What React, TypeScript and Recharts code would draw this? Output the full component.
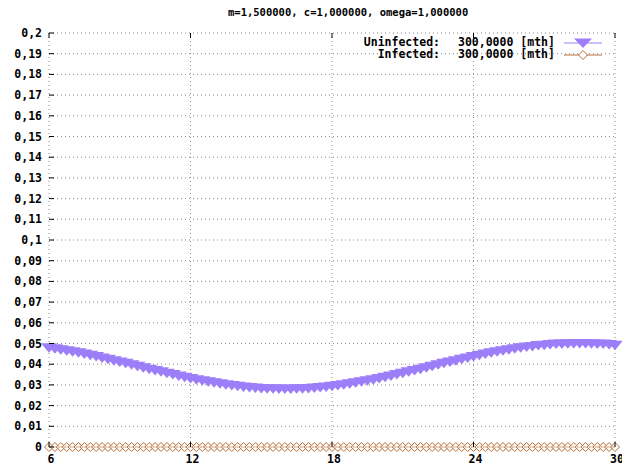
import { LineChart, Line, XAxis, YAxis, CartesianGrid } from 'recharts';

const title = 'm=1,500000, c=1,000000, omega=1,000000';

const months = [
  6, 6.25, 6.5, 6.75, 7, 7.25, 7.5, 7.75, 8, 8.25, 8.5, 8.75,
  9, 9.25, 9.5, 9.75, 10, 10.25, 10.5, 10.75, 11, 11.25, 11.5, 11.75,
  12, 12.25, 12.5, 12.75, 13, 13.25, 13.5, 13.75, 14, 14.25, 14.5, 14.75,
  15, 15.25, 15.5, 15.75, 16, 16.25, 16.5, 16.75, 17, 17.25, 17.5, 17.75,
  18, 18.25, 18.5, 18.75, 19, 19.25, 19.5, 19.75, 20, 20.25, 20.5, 20.75,
  21, 21.25, 21.5, 21.75, 22, 22.25, 22.5, 22.75, 23, 23.25, 23.5, 23.75,
  24, 24.25, 24.5, 24.75, 25, 25.25, 25.5, 25.75, 26, 26.25, 26.5, 26.75,
  27, 27.25, 27.5, 27.75, 28, 28.25, 28.5, 28.75, 29, 29.25, 29.5, 29.75,
  30,
];

const uninfected = [
  0.0479, 0.0475, 0.047, 0.0465, 0.046, 0.0455, 0.0449, 0.0443, 0.0437, 0.043, 0.0424, 0.0417,
  0.0411, 0.0404, 0.0397, 0.039, 0.0383, 0.0376, 0.0369, 0.0363, 0.0356, 0.035, 0.0343, 0.0337,
  0.0331, 0.0325, 0.032, 0.0315, 0.031, 0.0305, 0.0301, 0.0297, 0.0294, 0.029, 0.0288, 0.0285,
  0.0283, 0.0282, 0.0281, 0.028, 0.028, 0.028, 0.0281, 0.0282, 0.0283, 0.0285, 0.0288, 0.029,
  0.0294, 0.0297, 0.0301, 0.0305, 0.031, 0.0315, 0.032, 0.0325, 0.0331, 0.0337, 0.0343, 0.035,
  0.0356, 0.0363, 0.0369, 0.0376, 0.0383, 0.039, 0.0397, 0.0404, 0.0411, 0.0417, 0.0424, 0.043,
  0.0437, 0.0443, 0.0449, 0.0455, 0.046, 0.0465, 0.047, 0.0475, 0.0479, 0.0483, 0.0486, 0.049,
  0.0492, 0.0495, 0.0497, 0.0498, 0.0499, 0.05, 0.05, 0.05, 0.0499, 0.0498, 0.0497, 0.0495,
  0.0492,
];

const infected = [
  0, 0, 0, 0, 0, 0, 0, 0, 0, 0, 0, 0,
  0, 0, 0, 0, 0, 0, 0, 0, 0, 0, 0, 0,
  0, 0, 0, 0, 0, 0, 0, 0, 0, 0, 0, 0,
  0, 0, 0, 0, 0, 0, 0, 0, 0, 0, 0, 0,
  0, 0, 0, 0, 0, 0, 0, 0, 0, 0, 0, 0,
  0, 0, 0, 0, 0, 0, 0, 0, 0, 0, 0, 0,
  0, 0, 0, 0, 0, 0, 0, 0, 0, 0, 0, 0,
  0, 0, 0, 0, 0, 0, 0, 0, 0, 0, 0, 0,
  0,
];

const xTicks = [6, 12, 18, 24, 30];
const yTicks = [
  0, 0.01, 0.02, 0.03, 0.04, 0.05, 0.06, 0.07, 0.08, 0.09, 0.1,
  0.11, 0.12, 0.13, 0.14, 0.15, 0.16, 0.17, 0.18, 0.19, 0.2,
];

const seriesLabels = ['Uninfected:', 'Infected:'];
const seriesValues = ['300,0000 [mth]', '300,0000 [mth]'];

const purple = '#9c7ef9';
const brown = '#b9713a';
const font = '"DejaVu Sans Mono", monospace';

const data = months.map((m, i) => ({ month: m, uninfected: uninfected[i], infected: infected[i] }));

const fmt = (v: number) => String(v).replace('.', ',');

const LeftTick = (props: any) => {
  const { x, y, payload } = props;
  return (
    <g>
      <line x1={x} y1={y} x2={x + 5} y2={y} stroke="#000" />
      <text x={x - 7} y={y} dy={4} textAnchor="end" fontFamily={font} fontWeight="bold" fontSize={11.5} fill="#000">
        {fmt(payload.value)}
      </text>
    </g>
  );
};

const RightTick = (props: any) => {
  const { x, y } = props;
  return <line x1={x} y1={y} x2={x - 5} y2={y} stroke="#000" />;
};

const BottomTick = (props: any) => {
  const { x, y, payload } = props;
  return (
    <g>
      <line x1={x} y1={y} x2={x} y2={y - 5} stroke="#000" />
      <text x={x + 2} y={y + 16} textAnchor="middle" fontFamily={font} fontWeight="bold" fontSize={11.5} fill="#000">
        {payload.value}
      </text>
    </g>
  );
};

const TopTick = (props: any) => {
  const { x, y } = props;
  return <line x1={x} y1={y} x2={x} y2={y + 5} stroke="#000" />;
};

const TriangleDot = (props: any) => {
  const { cx, cy, index } = props;
  if (cx == null || cy == null) return <g key={`t-${index}`} />;
  return <path key={`t-${index}`} d={`M${cx - 8},${cy - 4.5} L${cx + 8},${cy - 4.5} L${cx},${cy + 5} Z`} fill={purple} />;
};

const DiamondDot = (props: any) => {
  const { cx, cy, index } = props;
  if (cx == null || cy == null) return <g key={`d-${index}`} />;
  return (
    <path
      key={`d-${index}`}
      d={`M${cx},${cy - 4.5} L${cx + 4.5},${cy} L${cx},${cy + 4.5} L${cx - 4.5},${cy} Z`}
      fill="#fff"
      fillOpacity={0.5}
      stroke={brown}
      strokeWidth={1}
    />
  );
};

const LegendBox = () => (
  <div style={{ position: 'absolute', top: 37, left: 0, width: 622, fontFamily: font, fontWeight: 'bold', fontSize: 11.5 }}>
    {seriesLabels.map((label, i) => (
      <div key={label} style={{ position: 'absolute', top: i * 12, left: 0, width: 622, height: 11, lineHeight: '11px' }}>
        <span style={{ position: 'absolute', right: 182, whiteSpace: 'nowrap' }}>{label}</span>
        <span style={{ position: 'absolute', left: 458, whiteSpace: 'nowrap' }}>{seriesValues[i]}</span>
        <svg style={{ position: 'absolute', left: 562, top: 0 }} width={42} height={12}>
          <line x1={2} y1={6} x2={40} y2={6} stroke={i === 0 ? purple : brown} strokeWidth={1.2} />
          {i === 0 ? (
            <path d="M12,1.5 L30,1.5 L21,11 Z" fill={purple} />
          ) : (
            <path d="M21,1.5 L25.5,6 L21,10.5 L16.5,6 Z" fill="#fff" stroke={brown} />
          )}
        </svg>
      </div>
    ))}
  </div>
);

export default function App() {
  return (
    <div style={{ position: 'relative', width: 622, height: 470, background: '#fff' }}>
      <style>{'body{margin:0}'}</style>
      <div
        style={{
          position: 'absolute',
          top: 6,
          left: 228,
          fontFamily: font,
          fontWeight: 'bold',
          fontSize: 10.5,
          whiteSpace: 'nowrap',
        }}
      >
        {title}
      </div>
      <LineChart width={622} height={470} data={data} margin={{ top: 32, right: 0, left: 0, bottom: 0 }}>
        <CartesianGrid stroke="#8c8c8c" strokeDasharray="1 3" />
        <XAxis
          dataKey="month"
          type="number"
          domain={[6, 30]}
          ticks={xTicks}
          interval={0}
          height={23}
          axisLine={false}
          tickLine={false}
          tickSize={0}
          tickMargin={0}
          tick={<BottomTick />}
        />
        <XAxis
          xAxisId="top"
          orientation="top"
          dataKey="month"
          type="number"
          domain={[6, 30]}
          ticks={xTicks}
          interval={0}
          height={1}
          axisLine={false}
          tickLine={false}
          tickSize={0}
          tickMargin={0}
          tick={<TopTick />}
        />
        <YAxis
          type="number"
          domain={[0, 0.2]}
          ticks={yTicks}
          interval={0}
          width={49}
          axisLine={false}
          tickLine={false}
          tickSize={0}
          tickMargin={0}
          tick={<LeftTick />}
        />
        <YAxis
          yAxisId="right"
          orientation="right"
          type="number"
          domain={[0, 0.2]}
          ticks={yTicks}
          interval={0}
          width={7}
          axisLine={false}
          tickLine={false}
          tickSize={0}
          tickMargin={0}
          tick={<RightTick />}
        />
        <Line
          dataKey="infected"
          stroke={brown}
          strokeWidth={1}
          dot={DiamondDot}
          activeDot={false}
          isAnimationActive={false}
        />
        <Line
          dataKey="uninfected"
          stroke={purple}
          strokeWidth={1}
          dot={TriangleDot}
          activeDot={false}
          isAnimationActive={false}
        />
      </LineChart>
      <LegendBox />
    </div>
  );
}
